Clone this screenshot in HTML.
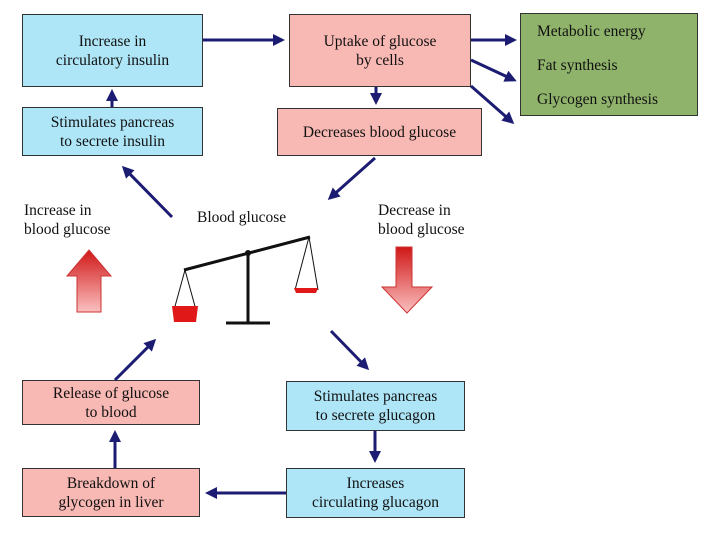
<!DOCTYPE html>
<html><head><style>
body{margin:0;width:720px;height:540px;background:#fff;position:relative;overflow:hidden;font-family:"Liberation Serif",serif;color:#111}
.b{position:absolute;box-sizing:border-box;border:1.5px solid #333;display:flex;align-items:center;justify-content:center;text-align:center;font-size:15.5px;line-height:19px}
.bl{background:#aee6f8}.pk{background:#f8b8b3}.gr{background:#8fb36b;display:block;text-align:left;padding-left:16px;line-height:34px;padding-top:0}
.t{position:absolute;font-size:15.5px;line-height:19px}
svg{position:absolute;left:0;top:0}
</style></head><body>
<div class="b bl" style="left:22px;top:14px;width:181px;height:73px">Increase in<br>circulatory insulin</div>
<div class="b pk" style="left:289px;top:14px;width:182px;height:73px">Uptake of glucose<br>by cells</div>
<div class="b gr" style="left:520px;top:13px;width:178px;height:103px;padding-top:1px">Metabolic energy<br>Fat synthesis<br>Glycogen synthesis</div>
<div class="b bl" style="left:22px;top:107px;width:181px;height:49px">Stimulates pancreas<br>to secrete insulin</div>
<div class="b pk" style="left:277px;top:108px;width:205px;height:48px">Decreases blood glucose</div>
<div class="b pk" style="left:22px;top:380px;width:178px;height:45px">Release of glucose<br>to blood</div>
<div class="b bl" style="left:286px;top:381px;width:179px;height:50px">Stimulates pancreas<br>to secrete glucagon</div>
<div class="b pk" style="left:22px;top:468px;width:178px;height:49px">Breakdown of<br>glycogen in liver</div>
<div class="b bl" style="left:286px;top:468px;width:179px;height:50px">Increases<br>circulating glucagon</div>
<div class="t" style="left:24px;top:201px">Increase in<br>blood glucose</div>
<div class="t" style="left:197px;top:208px">Blood glucose</div>
<div class="t" style="left:378px;top:201px">Decrease in<br>blood glucose</div>
<svg width="720" height="540">
<defs>
<marker id="a" markerWidth="4" markerHeight="4" refX="3" refY="2" orient="auto" markerUnits="strokeWidth"><path d="M0,0L4,2L0,4z" fill="#1c1c72"/></marker>
<linearGradient id="gu" x1="0" y1="0" x2="0" y2="1"><stop offset="0" stop-color="#d01818"/><stop offset="1" stop-color="#fbc0c0"/></linearGradient>
</defs>
<g stroke="#1c1c72" stroke-width="3" fill="none" marker-end="url(#a)">
<line x1="203" y1="40" x2="282" y2="40"/>
<line x1="112" y1="107" x2="112" y2="92"/>
<line x1="471" y1="40" x2="514" y2="40"/>
<line x1="471" y1="60" x2="514" y2="80"/>
<line x1="471" y1="86" x2="512" y2="122"/>
<line x1="376" y1="87" x2="376" y2="102"/>
<line x1="375" y1="158" x2="330" y2="198"/>
<line x1="172" y1="217" x2="124" y2="168"/>
<line x1="115" y1="380" x2="154" y2="341"/>
<line x1="331" y1="331" x2="367" y2="368"/>
<line x1="375" y1="431" x2="375" y2="460"/>
<line x1="286" y1="493" x2="208" y2="493"/>
<line x1="115" y1="468" x2="115" y2="433"/>
</g>
<path d="M67,276 L89,250 L111,276 L101,276 L101,312 L77,312 L77,276z" fill="url(#gu)" stroke="#c33" stroke-width="1"/>
<path d="M396,247 L412,247 L412,287 L432,287 L407,313 L382,287 L396,287z" fill="url(#gu)" stroke="#c33" stroke-width="1"/>
<g stroke="#111" fill="none">
<line x1="184" y1="270" x2="310" y2="237" stroke-width="3"/>
<line x1="248" y1="253" x2="248" y2="323" stroke-width="3"/>
<line x1="226" y1="323" x2="270" y2="323" stroke-width="3"/>
<line x1="185" y1="270" x2="174" y2="310" stroke-width="1"/>
<line x1="185" y1="270" x2="196" y2="310" stroke-width="1"/>
<line x1="309" y1="237" x2="295" y2="290" stroke-width="1"/>
<line x1="309" y1="237" x2="318" y2="290" stroke-width="1"/>
</g>
<circle cx="248" cy="253" r="3" fill="#111"/>
<path d="M172,306 L198,306 L196,322 L174,322z" fill="#e01818"/>
<path d="M294,288 L318,288 L316,293 L296,293z" fill="#e01818"/>
</svg>
</body></html>
